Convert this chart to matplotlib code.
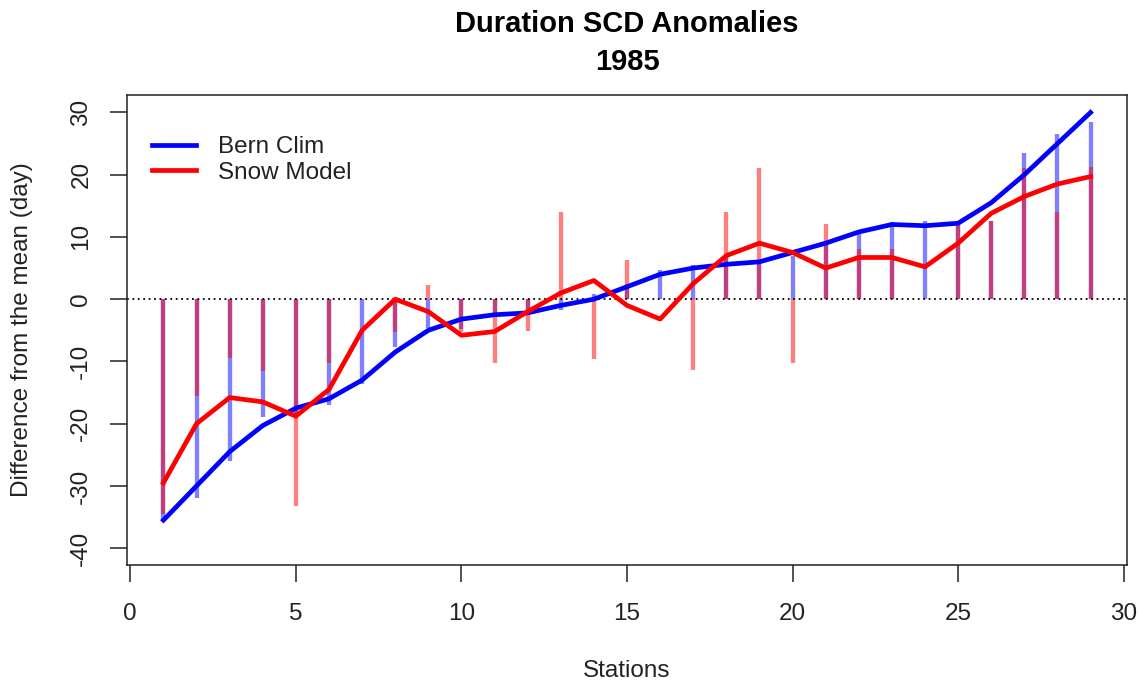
import numpy as np
import matplotlib
matplotlib.use("Agg")
import matplotlib.pyplot as plt

plt.rcParams['font.family'] = ['Liberation Sans', 'DejaVu Sans']

stations = np.arange(1, 30)

# smoothed anomaly curves
bern_line = [-35.5, -30, -24.5, -20.3, -17.5, -16, -13, -8.5, -5, -3.2,
             -2.5, -2.2, -1, 0, 2, 4, 5, 5.6, 6, 7.5,
             9, 10.8, 12, 11.8, 12.2, 15.5, 20, 25, 30]
snow_line = [-29.5, -20, -15.8, -16.5, -18.8, -14.5, -5, 0, -2, -5.8,
             -5.2, -2, 1, 3, -1, -3.2, 2.5, 7, 9, 7.5,
             5, 6.7, 6.7, 5.2, 9, 13.8, 16.5, 18.5, 19.7]

# station anomalies (bars)
bern_bar = [-35.5, -32, -26, -19, -18.5, -17, -13.7, -7.7, -4.6, -4.8,
            -2.5, -2.4, -1.8, 0.8, 2.4, 4.7, 5.5, 7, 6, 7,
            9, 10.8, 12.4, 12.5, 12.5, 12.5, 23.5, 26.5, 28.5]
snow_bar = [-34.5, -15.5, -9.4, -11.5, -33.2, -10.2, 0, -5.2, 2.2, -5.3,
            -10.2, -5.1, 14, -9.6, 6.3, 0, -11.3, 14, 21, -10.2,
            12, 8, 8, 0, 12.5, 12.5, 21, 14, 21.2]

fig = plt.figure(figsize=(11.41, 6.86), dpi=100)
ax = fig.add_axes([127/1141, 121/686, 1000/1141, 470/686])

ax.vlines(stations, 0, bern_bar, color='blue', alpha=0.5, lw=3.1)
ax.vlines(stations, 0, snow_bar, color='red', alpha=0.5, lw=3.1)
ax.axhline(0, color='black', lw=1.3, linestyle=(0, (1, 2)))

ax.plot(stations, bern_line, color='blue', lw=3.4, label='Bern Clim')
ax.plot(stations, snow_line, color='red', lw=3.4, label='Snow Model')

ax.set_xlim(-0.1, 30.1)
ax.set_ylim(-42.7, 32.8)
ax.set_xticks(np.arange(0, 31, 5))
ax.set_yticks(np.arange(-40, 31, 10))
ax.set_yticklabels([str(v) for v in range(-40, 31, 10)], rotation=90, va='center')
ax.tick_params(axis='both', length=12, width=1.1, labelsize=17.5, colors='#222222')
ax.tick_params(axis='x', pad=15)
ax.tick_params(axis='y', pad=13)
for s in ax.spines.values():
    s.set_linewidth(1.1)
    s.set_color('#222222')

fig.text(627/1141, 1 - 671/686, 'Stations', ha='center', va='center', fontsize=17.5, color='#222222')
fig.text(22/1141, 1 - 330/686, 'Difference from the mean (day)', ha='center', va='center',
         rotation=90, fontsize=17.5, color='#222222')
fig.text(627/1141, 1 - 43/686, 'Duration SCD Anomalies\n1985', ha='center', va='center',
         fontsize=21, fontweight='bold', linespacing=1.45)

ax.legend(loc='upper left', bbox_to_anchor=(152/1141, 1 - 136/686), bbox_transform=fig.transFigure,
          frameon=False, fontsize=17.5, handlelength=1.8, handletextpad=0.9,
          labelspacing=0.15, borderpad=0, borderaxespad=0, labelcolor='#222222')

fig.savefig('out.png', dpi=100)
